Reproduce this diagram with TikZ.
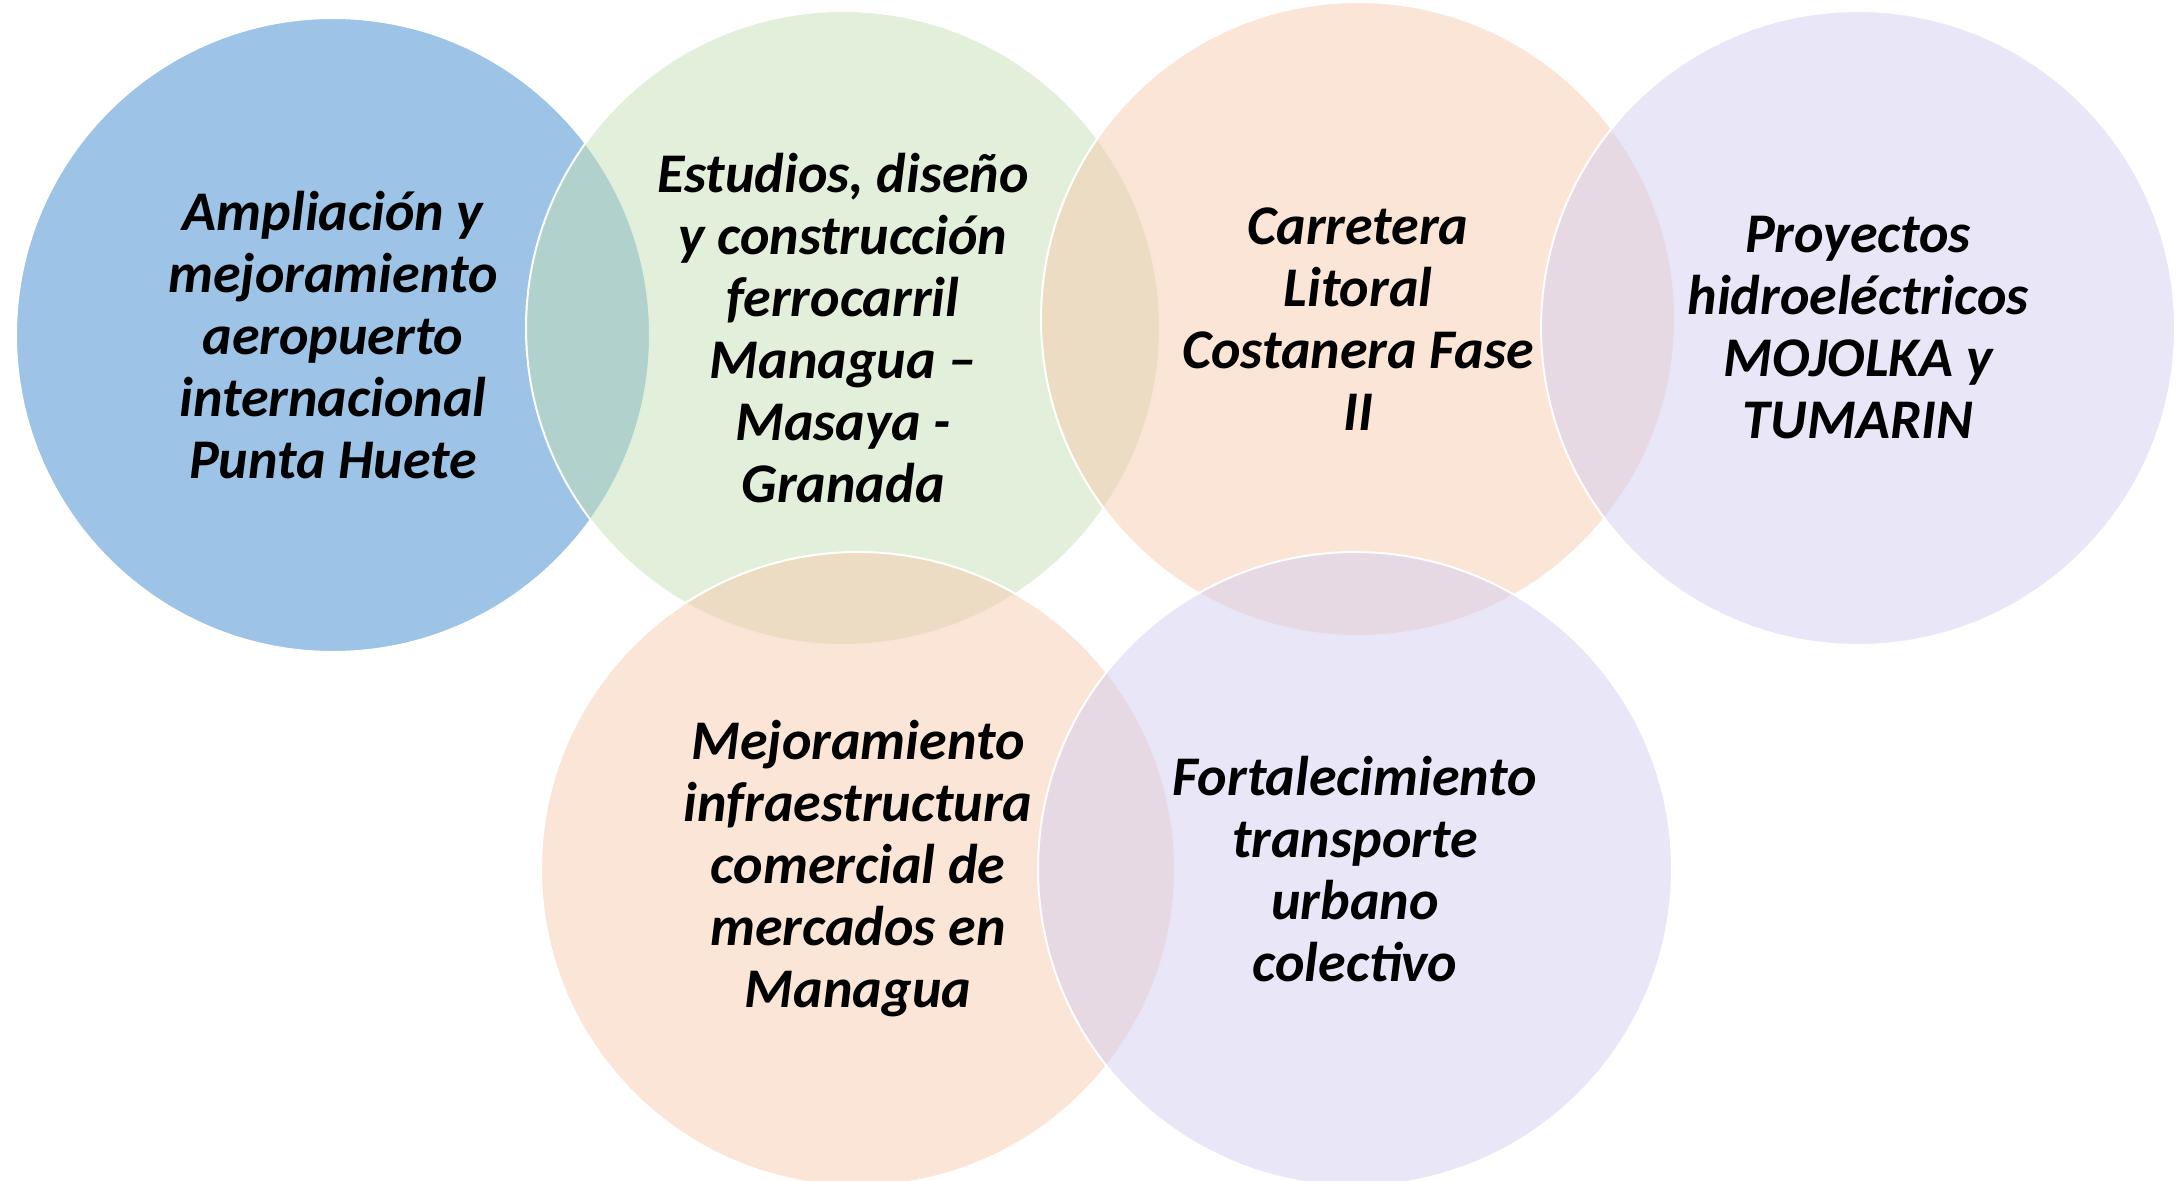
\documentclass[tikz,border=0pt]{standalone}
\usepackage{fontspec}
\setmainfont{Carlito}
\definecolor{cblue}{HTML}{9DC3E6}
\definecolor{cgreen}{HTML}{C5DFB5}
\definecolor{corange}{HTML}{F7CBAD}
\definecolor{clav}{HTML}{D3CDF1}
\tikzset{
  bubble/.style={circle, draw=white, line width=1pt, inner sep=0pt,
    minimum size=317pt, align=center, text=black,
    font=\fontsize{28pt}{31pt}\selectfont\bfseries\itshape},
  seethru/.style={fill=#1, fill opacity=0.5, text opacity=1, draw opacity=1}
}
\begin{document}
\begin{tikzpicture}[x=0.5pt,y=-0.5pt]
\useasboundingbox (0,0) rectangle (2177,1181);
\node[bubble, fill=cblue] (c1) at (333,335)
  {Ampliación y\\mejoramiento\\aeropuerto\\internacional\\Punta Huete};
\node[bubble, seethru=cgreen] (c2) at (843,328)
  {Estudios, diseño\\y construcción\\ferrocarril\\Managua –\\Masaya -\\Granada};
\node[bubble, seethru=corange] (c3) at (1358,319)
  {Carretera\\Litoral\\Costanera Fase\\II};
\node[bubble, seethru=clav] (c4) at (1858,328)
  {Proyectos\\hidroeléctricos\\MOJOLKA y\\TUMARIN};
\node[bubble, seethru=corange] (c5) at (858,869)
  {Mejoramiento\\infraestructura\\comercial de\\mercados en\\Managua};
\node[bubble, seethru=clav] (c6) at (1355,869)
  {Fortalecimiento\\transporte\\urbano\\colectivo};
\end{tikzpicture}
\end{document}
